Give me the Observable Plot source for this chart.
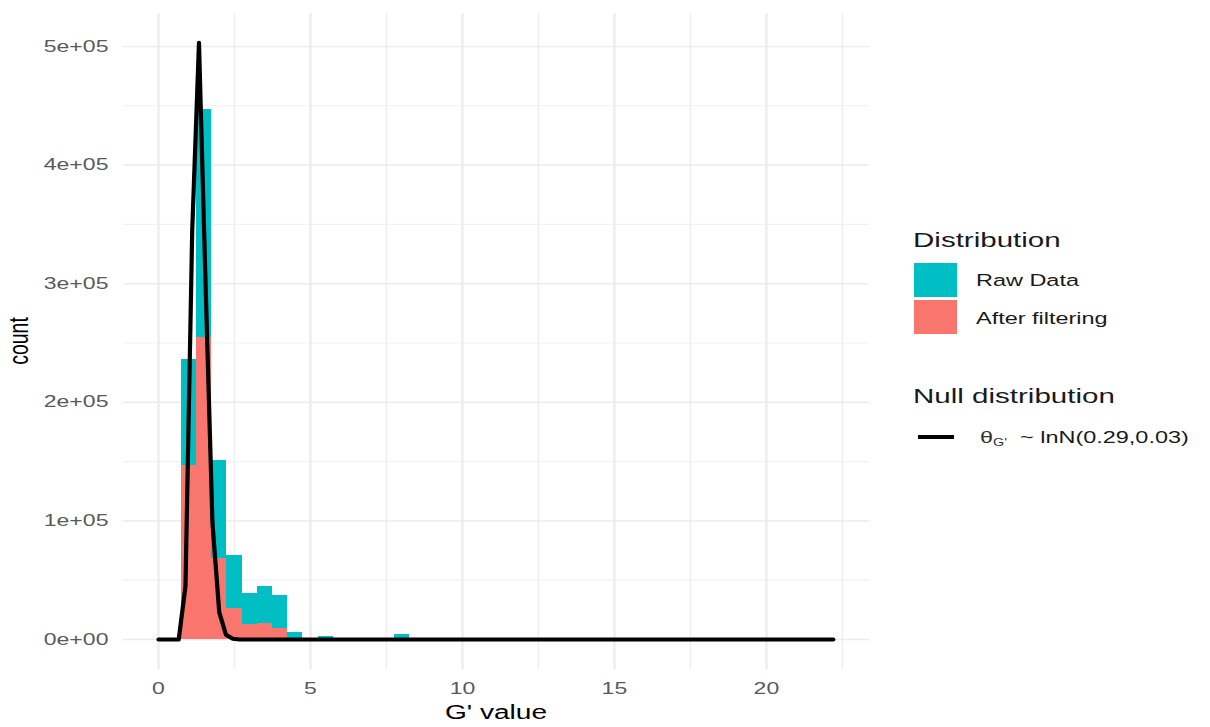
<!DOCTYPE html>
<html>
<head>
<meta charset="utf-8">
<script src="https://cdn.jsdelivr.net/npm/d3@7"></script>
<script src="https://cdn.jsdelivr.net/npm/@observablehq/plot@0.6"></script>
<style>
  body { margin: 0; background: #fff; font-family: "Liberation Sans", Arial, Helvetica, sans-serif; }
  #wrap { position: relative; width: 1210px; height: 727px; overflow: hidden; }
  #chart { position: absolute; left: 0; top: 0; }
  .t { position: absolute; white-space: nowrap; transform-origin: left center; transform: scaleX(1.44); }
  .axis-title { position: absolute; white-space: nowrap; color: #000; font-size: 19.5px; line-height: 20px; }
  .key { position: absolute; }
</style>
</head>
<body>
<div id="wrap">
  <div id="chart"></div>
  <div class="axis-title" id="xtitle"></div>
  <div class="axis-title" id="ytitle"></div>
  <div id="legend"></div>
</div>
<script>
// Histogram bins of G' (bin edges) and counts per group
const binLo = [0.75, 1.25, 1.75, 2.25, 2.75, 3.25, 3.75, 4.25, 5.25, 7.75];
const binHi = [1.25, 1.75, 2.25, 2.75, 3.25, 3.75, 4.25, 4.75, 5.75, 8.25];
const rawCounts = [236000, 447000, 151000, 71000, 38500, 45000, 37000, 5600, 2800, 4000];
const filteredCounts = [147000, 255000, 68000, 26000, 12500, 13800, 9600, 800, 0, 0];

// Fitted null distribution curve (scaled to counts)
const nullX = [0, 0.666, 0.888, 1.11, 1.332, 1.554, 1.776, 1.998, 2.22, 2.442, 2.664, 22.2];
const nullCount = [0, 0, 45000, 345000, 503000, 295000, 98000, 23000, 4000, 600, 0, 0];

// Axis ticks and grid positions
const xTicks = [0, 5, 10, 15, 20];
const xMinor = [2.5, 7.5, 12.5, 17.5, 22.5];
const yTicks = [0, 100000, 200000, 300000, 400000, 500000];
const yMinor = [50000, 150000, 250000, 350000, 450000];

// Legend entries
const fillLabels = ["Raw Data", "After filtering"];
const fillColors = ["#00BFC4", "#F8766D"];
const fillTitle = "Distribution";
const lineTitle = "Null distribution";

const bins = binLo.map((lo, i) => ({lo, hi: binHi[i], raw: rawCounts[i], filtered: filteredCounts[i]}));
const nullCurve = nullX.map((x, i) => ({x, y: nullCount[i]}));

const sci = d => {
  const [m, e] = d.toExponential(0).split("e");
  return m + "e" + e[0] + e.slice(1).padStart(2, "0");
};

const plot = Plot.plot({
  width: 890,
  height: 727,
  marginLeft: 123,
  marginRight: 21,
  marginTop: 13,
  marginBottom: 58,
  style: {fontFamily: '"Liberation Sans", Arial, Helvetica, sans-serif', fontSize: "16px", color: "#5a5a5a", background: "#fff"},
  x: {domain: [-1.151, 23.39]},
  y: {domain: [-25300, 527800]},
  marks: [
    Plot.ruleY(yMinor, {stroke: "#F2F2F2", strokeWidth: 1.2}),
    Plot.ruleX(xMinor, {stroke: "#F0F0F0", strokeWidth: 1.7}),
    Plot.ruleY(yTicks, {stroke: "#EBEBEB", strokeWidth: 1.5}),
    Plot.ruleX(xTicks, {stroke: "#EBEBEB", strokeWidth: 2.2}),
    Plot.rect(bins, {x1: "lo", x2: "hi", y1: 0, y2: "raw", fill: fillColors[0], shapeRendering: "crispEdges"}),
    Plot.rect(bins, {x1: "lo", x2: "hi", y1: 0, y2: "filtered", fill: fillColors[1], shapeRendering: "crispEdges"}),
    Plot.line(nullCurve, {x: "x", y: "y", stroke: "#000", strokeWidth: 4.2, strokeLinejoin: "round"}),
    Plot.axisX({ticks: xTicks, tickSize: 0, tickPadding: 13, label: null}),
    Plot.axisY({ticks: yTicks, tickSize: 0, tickPadding: 15, tickFormat: sci, label: null})
  ]
});
document.getElementById("chart").appendChild(plot);

// Widen the tick labels horizontally around their anchor points
const ns = "http://www.w3.org/2000/svg";
const svg = plot.tagName.toLowerCase() === "svg" ? plot : plot.querySelector("svg");
for (const t of Array.from(svg.querySelectorAll("text"))) {
  const parent = t.parentNode;
  const r = t.getBoundingClientRect();
  const anchor = getComputedStyle(t).textAnchor;
  const ax = anchor === "end" ? r.right : anchor === "middle" ? (r.left + r.right) / 2 : r.left;
  const pt = svg.createSVGPoint();
  pt.x = ax; pt.y = r.top;
  const p = pt.matrixTransform(parent.getScreenCTM().inverse());
  const g = document.createElementNS(ns, "g");
  g.setAttribute("transform", `translate(${p.x},0) scale(1.44,1) translate(${-p.x},0)`);
  parent.insertBefore(g, t);
  g.appendChild(t);
}

// Axis titles
const xt = document.getElementById("xtitle");
xt.textContent = "G' value";
xt.style.left = "496px"; xt.style.top = "702px";
xt.style.transform = "translateX(-50%) scaleX(1.44)";
const yt = document.getElementById("ytitle");
yt.textContent = "count";
yt.style.left = "18px"; yt.style.top = "341px";
yt.style.transform = "translate(-50%, -50%) scaleX(1.44) rotate(-90deg)";

// Legend
const legend = document.getElementById("legend");
const add = (html, css) => {
  const d = document.createElement("div");
  d.className = css.cls || "t";
  d.innerHTML = html;
  Object.assign(d.style, css.style);
  legend.appendChild(d);
  return d;
};
add(fillTitle, {style: {left: "913px", top: "229px", fontSize: "20.5px", lineHeight: "22px", color: "#1a1a1a"}});
fillLabels.forEach((lab, i) => {
  add("", {cls: "key", style: {left: "914px", top: (263 + i * 37) + "px", width: "43px", height: "34px", background: fillColors[i]}});
  add(lab, {style: {left: "976px", top: (271 + i * 38) + "px", fontSize: "16.3px", lineHeight: "18px", color: "#1a1a1a"}});
});
add(lineTitle, {style: {left: "913px", top: "385px", fontSize: "20.5px", lineHeight: "22px", color: "#1a1a1a"}});
add("", {cls: "key", style: {left: "918px", top: "435px", width: "36px", height: "4px", background: "#000"}});
add('<span style="color:#333">θ<sub style="font-size:10px;vertical-align:-3px">G\'</sub></span>&nbsp; ~ lnN(0.29,0.03)',
    {style: {left: "980px", top: "428px", fontSize: "16.3px", lineHeight: "18px", color: "#1a1a1a"}});
</script>
</body>
</html>
